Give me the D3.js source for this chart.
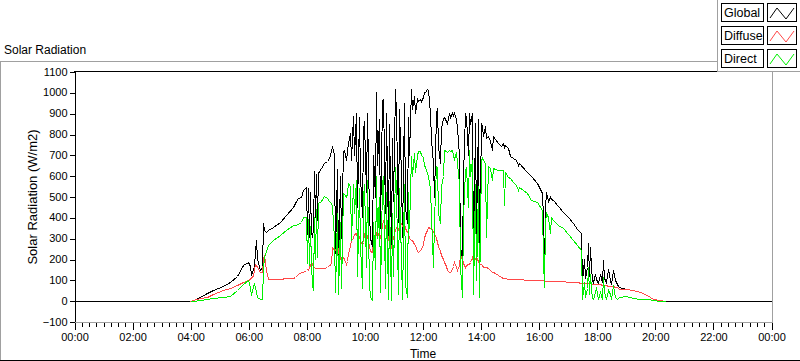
<!DOCTYPE html>
<html><head><meta charset="utf-8">
<script src="https://cdn.jsdelivr.net/npm/d3@7"></script>
<style>
body{margin:0;background:#fff;}
svg{display:block;font-family:"Liberation Sans",Arial,sans-serif;}
.axis text{font-size:11px;fill:#000;}
.axis line{stroke:#000;}
</style></head>
<body>
<svg id="c" width="800" height="361"></svg>
<script>
// ---------------- data ----------------
const times = ["00:00","04:00","04:05","04:20","04:35","04:48","05:08","05:22","05:36","05:50",
"06:00","06:03","06:06","06:09","06:12","06:14","06:16","06:19","06:24","06:28",
"06:31","06:33","06:36","06:41","06:52","07:05","07:19","07:33","07:36","07:42",
"07:48","07:54","08:00","08:02","08:04","08:06","08:08","08:10","08:12","08:14",
"08:16","08:18","08:20","08:22","08:24","08:30","08:36","08:42","08:46","08:50",
"08:54","08:57","09:00","09:03","09:06","09:09","09:12","09:15","09:18","09:21",
"09:24","09:27","09:30","09:33","09:36","09:39","09:42","09:45","09:48","09:51",
"09:54","09:57","10:00","10:03","10:06","10:09","10:12","10:15","10:18","10:21",
"10:24","10:27","10:30","10:33","10:36","10:39","10:42","10:45","10:48","10:51",
"10:54","10:57","11:00","11:03","11:06","11:09","11:12","11:15","11:18","11:21",
"11:24","11:27","11:30","11:33","11:36","11:39","11:42","11:45","11:48","11:51",
"11:54","11:57","12:00","12:03","12:06","12:09","12:12","12:15","12:18","12:21",
"12:24","12:27","12:30","12:33","12:36","12:39","12:42","12:45","12:48","12:51",
"12:54","12:57","13:00","13:03","13:06","13:09","13:12","13:15","13:18","13:21",
"13:24","13:27","13:30","13:33","13:36","13:39","13:42","13:45","13:48","13:51",
"13:54","13:57","14:00","14:03","14:06","14:09","14:12","14:15","14:20","14:23",
"14:26","14:30","14:36","14:42","14:47","14:48","14:51","14:57","15:01","15:08",
"15:14","15:17","15:20","15:35","15:45","15:56","16:06","16:09","16:11","16:14",
"16:16","16:20","16:23","16:26","16:30","16:40","16:50","17:00","17:11","17:20",
"17:28","17:30","17:33","17:36","17:39","17:42","17:44","17:46","17:49","17:51",
"17:53","17:56","17:59","18:02","18:06","18:10","18:13","18:16","18:20","18:24",
"18:27","18:30","18:34","18:38","18:41","18:44","18:47","19:01","19:15","19:29",
"19:43","19:56","20:10","20:20","24:00"];

const globalRad = [0,0,3,20,35,50,72,90,120,170,
186,165,122,150,162,240,291,200,146,160,
371,340,331,339,355,379,412,452,468,492,
500,532,548,320,540,307,520,330,307,350,
621,400,610,388,613,637,661,669,685,717,
741,700,227,630,163,600,300,717,725,677,
717,757,806,677,886,700,902,450,880,600,
400,820,860,520,900,420,300,260,700,500,
1000,650,870,350,960,967,420,900,300,850,
259,780,480,1015,900,380,920,600,307,950,
450,372,880,700,1015,918,983,902,967,960,
967,960,980,1000,1000,1015,1010,902,774,661,
500,902,926,741,660,830,878,880,860,854,
902,880,902,890,902,870,830,700,259,206,
600,902,880,700,902,850,902,163,854,323,
870,211,854,838,790,838,782,790,766,725,
790,774,757,741,757,740,745,733,693,685,
677,650,660,620,600,564,516,400,146,450,
524,480,500,490,484,455,427,400,371,345,
323,90,200,110,160,275,120,259,162,100,
90,130,106,85,130,90,195,110,90,150,
100,80,146,100,82,70,66,58,53,42,
26,10,2,0,0];

const diffuseRad = [null,0,2,12,18,30,53,62,75,90,
101,105,114,120,150,178,170,162,138,140,
200,219,146,106,106,106,108,111,114,130,
138,140,146,150,146,160,170,187,175,163,
160,158,155,155,155,155,155,160,170,178,
259,243,243,275,240,200,195,211,200,178,
190,227,260,291,300,320,323,300,310,290,
267,280,320,300,310,260,240,235,280,300,
323,310,330,300,360,388,360,340,300,280,
259,280,307,340,355,340,360,372,360,372,
350,330,323,300,290,291,270,267,240,235,
243,250,270,300,320,339,355,350,347,335,
323,300,280,260,240,220,200,187,165,146,
140,138,150,165,187,160,146,170,219,200,
180,163,170,178,175,187,211,190,200,211,
190,178,178,170,163,163,160,155,146,140,
138,135,122,114,110,110,108,106,105,104,
103,102,102,101,100,98,97,97,97,96,
96,95,95,95,94,93,93,92,90,88,
86,86,86,85,85,84,84,83,83,82,
82,81,80,80,78,77,76,76,74,72,
72,71,70,68,66,62,58,55,50,40,
25,10,3,0,null];

const directRad = [null,0,0,5,9,14,20,24,50,82,
98,66,26,70,82,66,40,18,10,10,
150,211,240,265,291,315,339,363,365,370,
380,404,400,180,390,171,360,171,80,50,
400,200,440,210,468,480,503,492,480,468,
453,300,40,420,34,380,60,516,510,500,
516,564,550,291,560,420,580,120,540,260,
60,500,560,160,580,80,20,5,380,150,
600,300,500,40,560,597,60,520,10,480,
5,420,120,640,520,30,540,200,10,560,
80,20,520,350,693,600,709,620,700,717,
717,701,690,650,640,613,600,540,400,163,
388,645,640,420,372,550,597,725,720,715,
725,720,725,700,680,715,660,560,163,18,
400,629,640,452,725,600,677,30,560,98,
550,18,677,685,677,661,307,645,637,580,
637,630,629,629,628,460,620,596,590,570,
556,532,545,516,484,476,435,200,66,380,
419,400,323,400,387,365,347,320,291,265,
243,10,90,20,60,162,30,130,60,15,
10,40,66,10,40,10,114,40,10,50,
30,10,74,20,10,12,18,21,15,10,
6,3,0,0,null];

const yTicks = [-100,0,100,200,300,400,500,600,700,800,900,1000,1100];
const seriesNames = ["Global","Diffuse","Direct"];
const seriesColors = ["#000000","#ff4848","#00f000"];

// ---------------- chart ----------------
const svg = d3.select("#c");
const parseT = s => { const [h,m] = s.split(":").map(Number); return new Date(2000,0,1,h,m); };
const T = times.map(parseT);
const x = d3.scaleTime().domain([new Date(2000,0,1,0,0), new Date(2000,0,2,0,0)]).range([74, 771]);
const y = d3.scaleLinear().domain([-100,1100]).range([321.5, 71.5]);

// outer frame
svg.append("line").attr("x1",0).attr("x2",800).attr("y1",61.5).attr("y2",61.5).attr("stroke","#a0a0a0");
svg.append("line").attr("x1",0.5).attr("x2",0.5).attr("y1",61).attr("y2",360).attr("stroke","#a0a0a0");
svg.append("line").attr("x1",0).attr("x2",800).attr("y1",360.5).attr("y2",360.5).attr("stroke","#000");

svg.append("text").attr("x",4).attr("y",54).attr("font-size","12px").text("Solar Radiation");

// plot frame
svg.append("line").attr("x1",74).attr("x2",772).attr("y1",71.5).attr("y2",71.5).attr("stroke","#000");
svg.append("line").attr("x1",772.5).attr("x2",772.5).attr("y1",71).attr("y2",322).attr("stroke","#a0a0a0");
svg.append("line").attr("x1",74).attr("x2",773).attr("y1",322.5).attr("y2",322.5).attr("stroke","#a0a0a0");

// clip
svg.append("clipPath").attr("id","pc").append("rect").attr("x",74).attr("y",72).attr("width",698).attr("height",250);

const lineGen = vals => d3.line()
  .defined((d,i) => vals[i] !== null)
  .x((d,i) => Math.round(x(T[i])) + 0.5)
  .y((d,i) => Math.round(y(vals[i])) + 0.5)(vals);

const g = svg.append("g").attr("clip-path","url(#pc)");
[globalRad, diffuseRad, directRad].forEach((vals,k) => {
  g.append("path").attr("d", lineGen(vals)).attr("fill","none")
   .attr("stroke", seriesColors[k]).attr("stroke-width",1)
   .attr("shape-rendering","crispEdges");
});

// y axis
const yAx = svg.append("g").attr("class","axis").attr("transform","translate(74.5,0)")
  .call(d3.axisLeft(y).tickValues(yTicks).tickSize(5).tickPadding(2).tickSizeOuter(0)
        .tickFormat(d3.format("d")))
  .attr("shape-rendering","crispEdges");
yAx.select(".domain").attr("stroke","#000");
yAx.selectAll(".tick line").attr("transform","translate(0,0.5)");

// x axis minor ticks
const xMinor = svg.append("g").attr("class","axis").attr("transform","translate(0.5,323)")
  .call(d3.axisBottom(x).ticks(d3.timeMinute.every(15)).tickSize(4).tickFormat(""))
  .attr("shape-rendering","crispEdges");
xMinor.select(".domain").remove();
const xAx = svg.append("g").attr("class","axis").attr("transform","translate(0.5,323)")
  .call(d3.axisBottom(x).ticks(d3.timeHour.every(2)).tickSize(7).tickPadding(3)
        .tickFormat(d3.timeFormat("%H:%M")))
  .attr("shape-rendering","crispEdges");
xAx.select(".domain").remove();

svg.append("text").attr("x",423).attr("y",358).attr("text-anchor","middle")
  .attr("font-size","12px").text("Time");
svg.append("text").attr("transform","translate(37,197) rotate(-90)").attr("text-anchor","middle")
  .attr("font-size","13px").text("Solar Radiation (W/m2)");

// legend
const lg = svg.append("g");
lg.append("rect").attr("x",717.5).attr("y",-1).attr("width",90).attr("height",72.5)
  .attr("fill","#fff").attr("stroke","#a0a0a0").attr("shape-rendering","crispEdges");
const legendTop = [3,26,49];
seriesNames.forEach((n,i) => {
  const ty = legendTop[i];
  lg.append("rect").attr("x",721.5).attr("y",ty+0.5).attr("width",42).attr("height",18)
    .attr("fill","#fff").attr("stroke","#000").attr("shape-rendering","crispEdges");
  lg.append("text").attr("x",724).attr("y",ty+14).attr("font-size","12.5px").text(n);
  lg.append("rect").attr("x",767.5).attr("y",ty+0.5).attr("width",29).attr("height",18)
    .attr("fill","#fff").attr("stroke","#000").attr("shape-rendering","crispEdges");
  lg.append("path").attr("d",`M770,${ty+15}L777,${ty+5}L786,${ty+16}L794,${ty+5}`)
    .attr("fill","none").attr("stroke",seriesColors[i]);
});
</script>
</body></html>
